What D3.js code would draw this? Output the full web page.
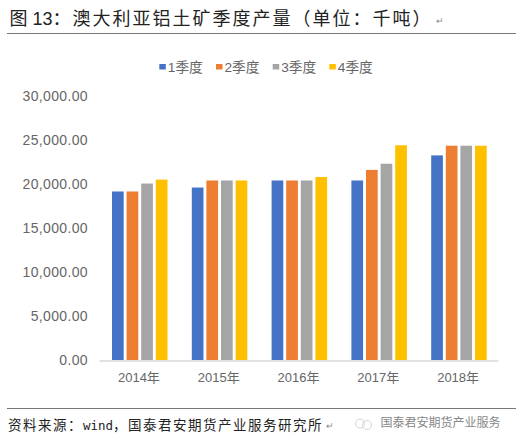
<!DOCTYPE html>
<html><head><meta charset="utf-8">
<script src="https://cdn.jsdelivr.net/npm/d3@7"></script>
<style>html,body{margin:0;padding:0;background:#fff}svg{display:block}</style></head>
<body><svg id="c" width="516" height="445"></svg>
<script>
const years = ["2014年","2015年","2016年","2017年","2018年"];
const seriesNames = ["1季度","2季度","3季度","4季度"];
const q1 = [19150,19600,20400,20400,23250];
const q2 = [19150,20400,20400,21600,24350];
const q3 = [20050,20400,20400,22300,24350];
const q4 = [20500,20400,20800,24400,24350];
const colors = ["#4472c4","#ed7d31","#a5a5a5","#ffc000"];
const yTicks = [0,5000,10000,15000,20000,25000,30000];
const watermark = "国泰君安期货产业服务";
const cjk = "'Noto Sans CJK SC',sans-serif";
const mixed = "'Liberation Sans','Noto Sans CJK SC',sans-serif";
const mono = "'DejaVu Sans Mono',monospace";

const svg = d3.select("#c");
const x = d3.scaleBand().domain(years).range([99,498]);
const y = d3.scaleLinear().domain([0,30000]).range([360,96]);
const inner = d3.scaleBand().domain(seriesNames).range([13,68.5]).paddingInner(0.2);
const all = [q1,q2,q3,q4];

// title
const title = svg.append("text").attr("x",9.5).attr("y",25).attr("font-size",18).attr("fill","#222").attr("font-family",mixed);
title.append("tspan").text("图 13");
title.append("tspan").attr("font-family",cjk).attr("letter-spacing",2).text("：澳大利亚铝土矿季度产量（单位：千吨）");
svg.append("text").attr("x",436).attr("y",24).attr("font-family",cjk).attr("font-size",9).attr("fill","#888").text("↵");
svg.append("line").attr("x1",7).attr("x2",516).attr("y1",33.5).attr("y2",33.5).attr("stroke","#777").attr("stroke-width",1);

// legend
const legendX = [159.3,216,272.7,329.3];
seriesNames.forEach((n,i)=>{
  svg.append("rect").attr("x",legendX[i]).attr("y",64).attr("width",6.5).attr("height",5.5).attr("fill",colors[i]);
  svg.append("text").attr("x",legendX[i]+8.5).attr("y",71.7).attr("font-family",mixed).attr("font-size",13.7).attr("fill","#666").text(n);
});

// y axis labels
const gy = svg.append("g").attr("transform","translate(92,0)")
  .call(d3.axisLeft(y).tickValues(yTicks).tickSize(0).tickPadding(4).tickFormat(d3.format(",.2f")));
gy.select(".domain").remove();
gy.selectAll("text").attr("font-family",mixed).attr("font-size",14).attr("letter-spacing",0.35).attr("fill","#666");

// bars
seriesNames.forEach((n,i)=>{
  svg.append("g").selectAll("rect").data(years).join("rect")
    .attr("x",d=>x(d)+inner(n)).attr("width",inner.bandwidth())
    .attr("y",(d,j)=>y(all[i][j])).attr("height",(d,j)=>y(0)-y(all[i][j]))
    .attr("fill",colors[i]);
});

// x axis
const gx = svg.append("g").attr("transform","translate(0,360.5)")
  .call(d3.axisBottom(x).tickSize(0).tickPadding(12));
gx.select(".domain").attr("stroke","#d9d9d9").attr("stroke-width",1.5);
gx.selectAll("text").attr("font-family",mixed).attr("font-size",13).attr("fill","#666");

// footer
svg.append("line").attr("x1",7).attr("x2",516).attr("y1",408.5).attr("y2",408.5).attr("stroke","#777").attr("stroke-width",1);
const src = svg.append("text").attr("x",8).attr("y",430).attr("font-size",13.5).attr("fill","#222").attr("font-family",cjk);
src.append("tspan").attr("letter-spacing",1.5).text("资料来源：");
src.append("tspan").attr("font-family",mono).attr("font-size",12.5).text("wind");
src.append("tspan").attr("letter-spacing",1.5).text("，国泰君安期货产业服务研究所");
svg.append("text").attr("x",326).attr("y",429).attr("font-family",cjk).attr("font-size",9).attr("fill","#888").text("↵");
svg.append("text").attr("x",380.5).attr("y",427).attr("font-family",cjk).attr("font-size",12).attr("fill","#888").text(watermark);
svg.append("circle").attr("cx",360).attr("cy",423.5).attr("r",4.5).attr("fill","none").attr("stroke","#d5d5d5");
svg.append("circle").attr("cx",367).attr("cy",425).attr("r",4.5).attr("fill","none").attr("stroke","#d5d5d5");
</script></body></html>
